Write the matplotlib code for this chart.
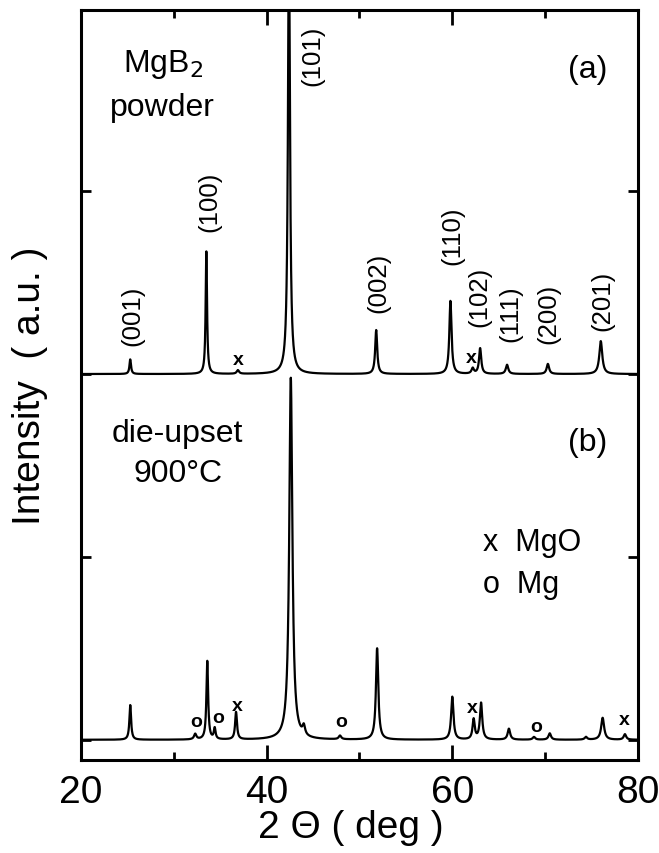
import numpy as np
import matplotlib
matplotlib.use("Agg")
import matplotlib.pyplot as plt
from matplotlib.ticker import MultipleLocator

plt.rcParams['font.family'] = ['Liberation Sans', 'DejaVu Sans']

# peak lists: position (2theta), height, half width
top_pos = [25.3, 33.5, 36.9, 42.4, 51.8, 59.8, 62.2, 63.0, 65.9, 70.3, 76.0]
top_h   = [0.08, 0.67, 0.02, 2.40, 0.24, 0.40, 0.03, 0.14, 0.05, 0.055, 0.18]
top_w   = [0.10, 0.09, 0.15, 0.13, 0.13, 0.14, 0.15, 0.14, 0.16, 0.16, 0.19]

bot_pos = [25.3, 32.3, 33.6, 34.4, 36.7, 42.6, 44.0, 47.9, 51.9, 60.0, 62.3,
           63.1, 66.1, 68.8, 70.5, 74.4, 76.2, 78.6]
bot_h   = [0.19, 0.03, 0.43, 0.06, 0.15, 1.98, 0.05, 0.02, 0.50, 0.235, 0.11,
           0.20, 0.06, 0.015, 0.035, 0.015, 0.12, 0.03]
bot_w   = [0.11, 0.15, 0.11, 0.11, 0.12, 0.20, 0.16, 0.16, 0.15, 0.15, 0.14,
           0.15, 0.16, 0.16, 0.16, 0.16, 0.19, 0.16]

top_offset = 2.0
bot_offset = 0.0

hkl_labels = ['(001)', '(100)', '(101)', '(002)', '(110)', '(102)', '(111)', '(200)', '(201)']
hkl_x = [25.5, 33.8, 44.9, 52.0, 60.0, 62.9, 66.3, 70.3, 76.2]
hkl_y = [2.16, 2.78, 3.58, 2.34, 2.60, 2.26, 2.18, 2.17, 2.24]

# impurity marks: symbol, x, y
imp_sym = ['x', 'x', 'o', 'o', 'x', 'o', 'x', 'o', 'x']
imp_x = [36.9, 62.0, 32.4, 34.8, 36.8, 48.0, 62.2, 69.0, 78.5]
imp_y = [2.08, 2.09, 0.10, 0.12, 0.19, 0.10, 0.175, 0.075, 0.11]


def pattern(tt, pos, h, w):
    y = np.zeros_like(tt)
    for p, a, g in zip(pos, h, w):
        y += a * g**2 / ((tt - p)**2 + g**2)
    return y


tt = np.linspace(20, 80, 4001)

fig = plt.figure(figsize=(6.59, 8.54), dpi=100)
ax = fig.add_axes([0.123, 0.109, 0.845, 0.878])

ax.plot(tt, top_offset + pattern(tt, top_pos, top_h, top_w), color='black', lw=1.6)
ax.plot(tt, bot_offset + pattern(tt, bot_pos, bot_h, bot_w), color='black', lw=1.6)

ax.set_xlim(20, 80)
ax.set_ylim(-0.11, 3.99)

ax.xaxis.set_major_locator(MultipleLocator(20))
ax.xaxis.set_minor_locator(MultipleLocator(10))
ax.yaxis.set_major_locator(MultipleLocator(1))
ax.set_yticklabels([])
ax.tick_params(axis='both', which='both', direction='in', top=True, right=True,
               width=2, labelsize=28)
ax.tick_params(axis='x', which='major', length=11, pad=10)
ax.tick_params(axis='x', which='minor', length=6)
ax.tick_params(axis='y', which='major', length=7)
for s in ax.spines.values():
    s.set_linewidth(2.2)

ax.set_xlabel('2 \u0398 ( deg )', fontsize=28)
ax.xaxis.set_label_coords(0.484, -0.066)
ax.set_ylabel('Intensity  ( a.u. )', fontsize=28, labelpad=20)

for lab, x, y in zip(hkl_labels, hkl_x, hkl_y):
    ax.text(x, y, lab, rotation=90, fontsize=18.5, ha='center', va='bottom')

for s, x, y in zip(imp_sym, imp_x, imp_y):
    ax.text(x, y, s, fontsize=14, fontweight='bold', ha='center', va='center')

ax.text(28.8, 3.70, 'MgB$_2$', fontsize=23, ha='center', va='center')
ax.text(28.8, 3.46, 'powder', fontsize=23, ha='center', va='center')
ax.text(74.6, 3.67, '(a)', fontsize=23, ha='center', va='center')

ax.text(30.4, 1.68, 'die-upset', fontsize=23, ha='center', va='center')
ax.text(30.4, 1.46, '900\u00b0C', fontsize=23, ha='center', va='center')
ax.text(74.6, 1.63, '(b)', fontsize=23, ha='center', va='center')

ax.text(63.3, 1.08, 'x  MgO', fontsize=22, ha='left', va='center')
ax.text(63.3, 0.85, 'o  Mg', fontsize=22, ha='left', va='center')

fig.savefig('out.png', dpi=100)
